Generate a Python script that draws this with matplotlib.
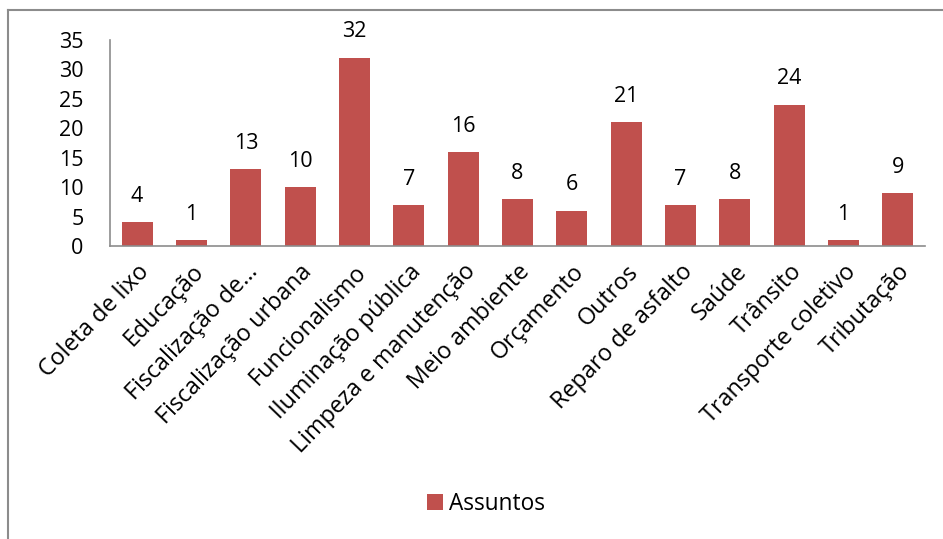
import numpy as np
import matplotlib.pyplot as plt
from matplotlib.lines import Line2D

categorias = ['Coleta de lixo', 'Educação', 'Fiscalização de…', 'Fiscalização urbana',
              'Funcionalismo', 'Iluminação pública', 'Limpeza e manutenção', 'Meio ambiente',
              'Orçamento', 'Outros', 'Reparo de asfalto', 'Saúde', 'Trânsito',
              'Transporte coletivo', 'Tributação']
assuntos = [4, 1, 13, 10, 32, 7, 16, 8, 6, 21, 7, 8, 24, 1, 9]

plt.rcParams['font.family'] = ['Open Sans', 'DejaVu Sans']
cor = '#C0504D'
fs = 15.5

fig = plt.figure(figsize=(9.43, 5.39), dpi=100)
ax = fig.add_axes([0.1166, 0.5436, 0.8644, 0.3822])

x = np.arange(len(categorias))
bars = ax.bar(x, assuntos, width=0.57, color=cor, label='Assuntos')
for b, v in zip(bars, assuntos):
    ax.annotate(str(v), (b.get_x() + b.get_width() / 2, v), xytext=(0, 11),
                textcoords='offset points', ha='center', va='bottom', fontsize=fs)

ax.set_xlim(-0.5, len(categorias) - 0.5)
ax.set_ylim(0, 35)
ax.set_yticks(range(0, 36, 5))
ax.set_xticks(x)
ax.set_xticklabels(categorias, rotation=46, ha='right', rotation_mode='anchor', fontsize=16.8)
ax.tick_params(axis='y', length=0, labelsize=fs, pad=19)
ax.tick_params(axis='x', length=0, pad=10)
for s in ['top', 'right']:
    ax.spines[s].set_visible(False)
for s in ['left', 'bottom']:
    ax.spines[s].set_color('#8C8C8C')
    ax.spines[s].set_linewidth(1.2)

fig.legend(handles=[bars], labels=['Assuntos'], loc='center', bbox_to_anchor=(486 / 943, 1 - 504 / 539),
           frameon=False, fontsize=16.3, handlelength=0.7, handleheight=0.7, handletextpad=0.3)

# chart frame
fig.add_artist(Line2D([8 / 943, 1], [1 - 10 / 539] * 2, color='#8C8C8C', lw=1.5,
                      transform=fig.transFigure))
fig.add_artist(Line2D([8 / 943] * 2, [1 - 10 / 539, 0], color='#8C8C8C', lw=1.5,
                      transform=fig.transFigure))

fig.savefig('out.png', dpi=100)
